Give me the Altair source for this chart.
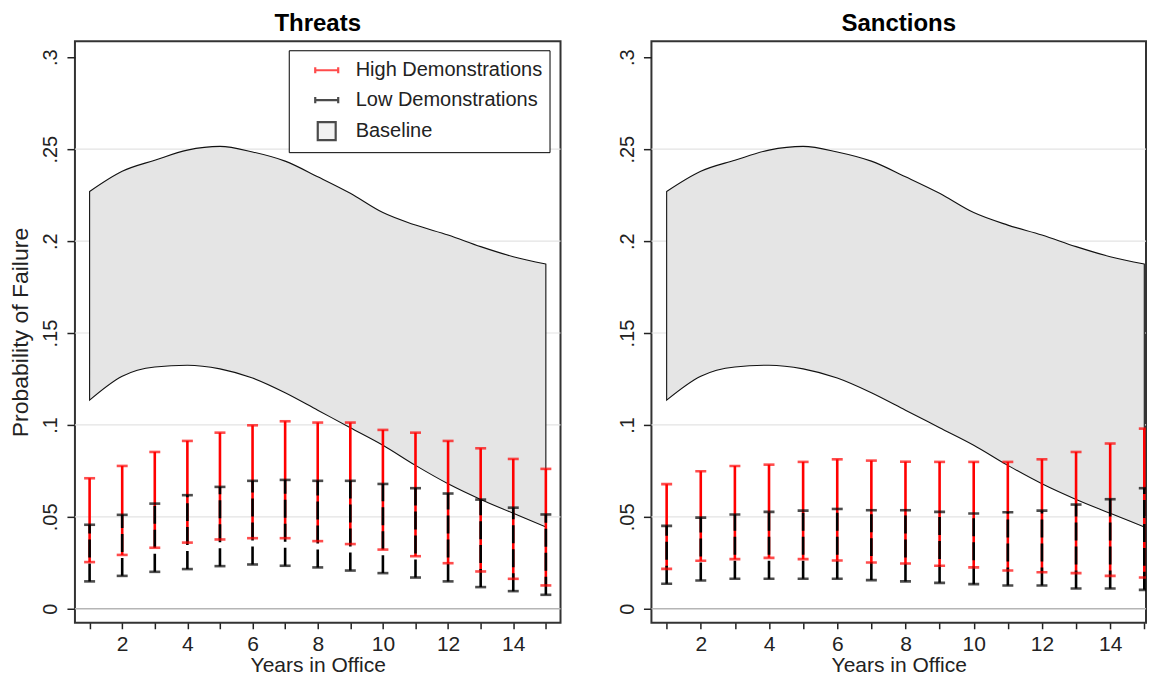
import altair as alt
import pandas as pd

# ---------------- data ----------------
YEARS = list(range(1, 16))

BASE_HI = [0.227, 0.238, 0.244, 0.2495, 0.2515, 0.2485, 0.2435, 0.235, 0.226,
           0.2155, 0.2087, 0.2033, 0.197, 0.1915, 0.1875]
BASE_LO = [0.1135, 0.1265, 0.1315, 0.1325, 0.1305, 0.1255, 0.1175, 0.108, 0.0985,
           0.089, 0.078, 0.068, 0.0595, 0.052, 0.0445]

TH_HIGH_HI = [0.071, 0.0777, 0.0853, 0.0913, 0.0958, 0.0998, 0.102, 0.1013, 0.1013,
              0.0973, 0.0958, 0.0913, 0.0873, 0.0815, 0.0761]
TH_HIGH_LO = [0.0254, 0.0293, 0.0332, 0.036, 0.0377, 0.0384, 0.0384, 0.0368, 0.0352,
              0.0322, 0.0286, 0.0248, 0.0203, 0.0163, 0.0127]
TH_LOW_HI = [0.0457, 0.0511, 0.0572, 0.0618, 0.0663, 0.0696, 0.0701, 0.0696, 0.0696,
             0.0679, 0.0656, 0.0627, 0.0594, 0.055, 0.0513]
TH_LOW_LO = [0.0149, 0.0179, 0.0201, 0.0216, 0.0232, 0.0241, 0.0234, 0.0225, 0.0208,
             0.0194, 0.017, 0.0149, 0.0118, 0.0096, 0.0076]

SA_HIGH_HI = [0.0678, 0.0748, 0.0777, 0.0784, 0.0799, 0.0813, 0.0806, 0.080, 0.0799,
              0.0799, 0.0799, 0.0813, 0.0853, 0.0899, 0.098]
SA_HIGH_LO = [0.0217, 0.0261, 0.027, 0.0277, 0.027, 0.0263, 0.0252, 0.0246, 0.0234,
              0.0225, 0.0208, 0.0199, 0.0194, 0.0179, 0.017]
SA_LOW_HI = [0.0451, 0.0496, 0.0513, 0.0527, 0.0534, 0.0543, 0.0536, 0.0536, 0.0527,
             0.0518, 0.0525, 0.0534, 0.0567, 0.0596, 0.0656]
SA_LOW_LO = [0.0136, 0.0154, 0.0163, 0.0163, 0.0163, 0.0163, 0.0156, 0.0149, 0.0141,
             0.0134, 0.0127, 0.0127, 0.011, 0.011, 0.0103]

Y_TICKS = [0, 0.05, 0.1, 0.15, 0.2, 0.25, 0.3]
GRID_Y = [0.05, 0.1, 0.15, 0.2, 0.25]
ZERO_Y = [0]
LEGEND_LABELS = ["High Demonstrations", "Low Demonstrations", "Baseline"]
PANEL_TITLES = ["Threats", "Sanctions"]

# ---------------- styling ----------------
FONT = "Liberation Sans"
RED = "#ff0000"
BAND_FILL = "#e5e5e5"
TXT = "#222222"
H_PATH = "M-1,0L1,0M-1,-0.27L-1,0.27M1,-0.27L1,0.27"
SQ_PATH = "M-0.78,-0.78L0.78,-0.78L0.78,0.78L-0.78,0.78Z"
Y_DOMAIN = [-0.0076, 0.3087]
PANEL_H = 582


def panel(title, hh, hl, lh, ll, xdom, width, ytitle, with_legend, clip):
    band = pd.DataFrame({"year": YEARS, "hi": BASE_HI, "lo": BASE_LO})
    high = pd.DataFrame({"year": YEARS, "lo": hl, "hi": hh})
    low = pd.DataFrame({"year": YEARS, "lo": ll, "hi": lh})

    xs = alt.Scale(domain=xdom, nice=False, zero=False)
    ys = alt.Scale(domain=Y_DOMAIN, nice=False, zero=False)

    xaxis = alt.Axis(
        values=YEARS, grid=False, domain=False, tickSize=6, tickWidth=1.5,
        tickColor="#222", labelExpr="datum.value % 2 == 0 ? datum.value : ''",
        labelFontSize=21, labelColor=TXT, labelPadding=5, labelFlush=False,
        labelOverlap=False, titleFontSize=21, titleFontWeight="normal",
        titleColor=TXT, titlePadding=0,
    )
    yaxis = alt.Axis(
        values=Y_TICKS, grid=False, domain=False, tickSize=8, tickWidth=1.5,
        tickColor="#222", labelAngle=270, labelAlign="center",
        labelBaseline="bottom",
        labelExpr="datum.value == 0 ? '0' : replace(format(datum.value, '.2~f'), '0.', '.')",
        labelFontSize=20, labelColor=TXT, labelPadding=6, labelFlush=False,
        labelOverlap=False, titleFontSize=23, titleFontWeight="normal",
        titleColor=TXT, titlePadding=8,
    )

    def X(field="year"):
        return alt.X(f"{field}:Q", scale=xs, axis=xaxis, title="Years in Office")

    def Y(field):
        if ytitle:
            return alt.Y(f"{field}:Q", scale=ys, axis=yaxis, title=ytitle)
        return alt.Y(f"{field}:Q", scale=ys, axis=yaxis, title=None)

    grid = alt.Chart(pd.DataFrame({"y": GRID_Y})).mark_rule(
        color="#e3e3e3", strokeWidth=1.2).encode(y=Y("y"))
    zero = alt.Chart(pd.DataFrame({"y": ZERO_Y})).mark_rule(
        color="#b5b5b5", strokeWidth=1.6).encode(y=Y("y"))

    area = alt.Chart(band).mark_area(
        interpolate="monotone", fill=BAND_FILL, stroke="#111", strokeWidth=1.1,
        clip=clip,
    ).encode(x=X(), y=Y("hi"), y2="lo:Q")

    def rules(df, color, dash=None):
        kw = dict(color=color, strokeWidth=2.6, clip=clip)
        if dash:
            kw["strokeDash"] = dash
        return alt.Chart(df).mark_rule(**kw).encode(x=X(), y=Y("lo"), y2="hi:Q")

    def caps(df, color):
        return alt.Chart(df).transform_fold(["lo", "hi"], as_=["end", "v"]).mark_tick(
            orient="horizontal", size=11, thickness=2.6, color=color, clip=clip
        ).encode(x=X(), y=Y("v"))

    layers = [grid, zero, area,
              rules(high, RED), rules(low, "black", [18, 6]),
              caps(high, RED), caps(low, "black")]

    if with_legend:
        leg = alt.Legend(
            title=None, orient="none", legendX=214, legendY=9, symbolSize=529,
            symbolStrokeWidth=2.2, labelFont=FONT, labelFontSize=20,
            labelColor=TXT, labelLimit=400, padding=7, rowPadding=7,
            symbolOffset=18, labelOffset=16, strokeColor="black",
            fillColor="white", cornerRadius=0,
        )
        leg_layer = alt.Chart(pd.DataFrame({"series": LEGEND_LABELS})).transform_filter(
            "false"
        ).mark_point(filled=False, size=529).encode(
            shape=alt.Shape("series:N", legend=leg, scale=alt.Scale(
                domain=LEGEND_LABELS, range=[H_PATH, H_PATH, SQ_PATH])),
            stroke=alt.Stroke("series:N", legend=leg, scale=alt.Scale(
                domain=LEGEND_LABELS, range=[RED, "black", "black"])),
            fill=alt.Fill("series:N", legend=leg, scale=alt.Scale(
                domain=LEGEND_LABELS, range=["transparent", "transparent", BAND_FILL])),
            size=alt.Size("series:N", legend=leg, scale=alt.Scale(
                domain=LEGEND_LABELS, range=[529, 529, 529])),
        )
        layers.append(leg_layer)

    return alt.layer(*layers).properties(
        width=width, height=PANEL_H,
        title=alt.TitleParams(text=title, fontSize=24, fontWeight="bold",
                              font=FONT, color="black", anchor="middle", offset=5),
    )


left = panel(PANEL_TITLES[0], TH_HIGH_HI, TH_HIGH_LO, TH_LOW_HI, TH_LOW_LO,
             [0.55, 15.45], 486, "Probability of Failure", True, False)
right = panel(PANEL_TITLES[1], SA_HIGH_HI, SA_HIGH_LO, SA_LOW_HI, SA_LOW_LO,
              [0.554, 15.05], 495, None, False, True)

chart = alt.hconcat(left, right, spacing=54).resolve_legend(
    shape="independent", stroke="independent", fill="independent",
    size="independent"
).properties(padding={"left": 1, "top": 3, "right": 0, "bottom": -2}).configure(
    font=FONT
).configure_view(stroke="#333", strokeWidth=2)

chart.save("out.html", embed_options={"renderer": "svg", "actions": False})
